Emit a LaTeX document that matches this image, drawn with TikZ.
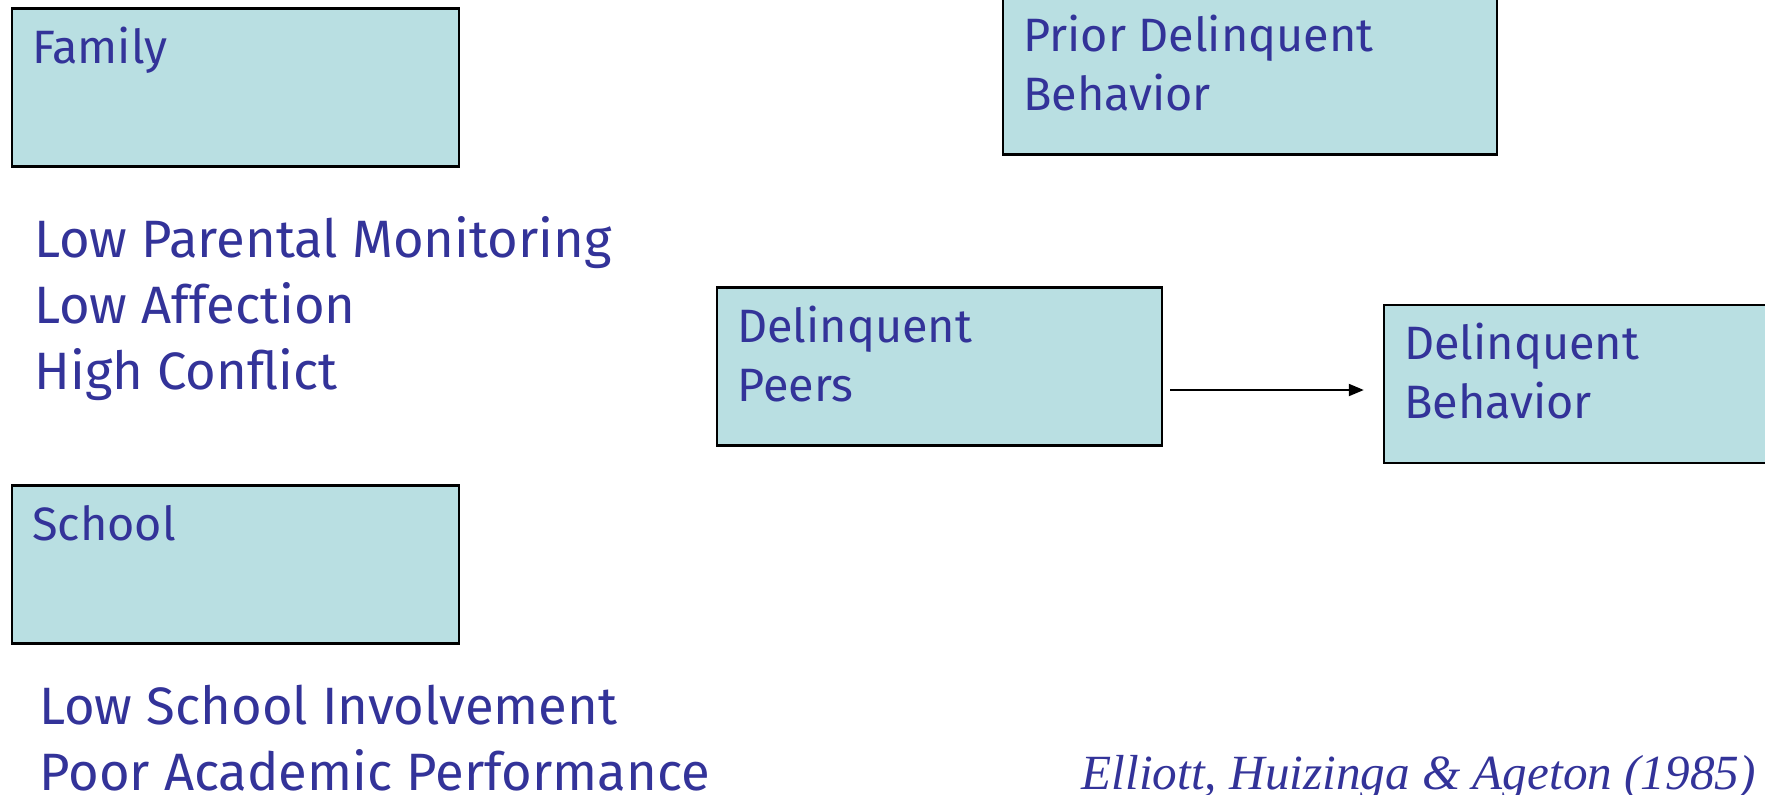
\documentclass[tikz,border=0pt]{standalone}
\usepackage{fontspec}
\setmainfont{Fira Sans}
\newfontfamily\citefont{Liberation Serif}
\usetikzlibrary{positioning, arrows.meta}
\definecolor{boxfill}{HTML}{B9DFE2}
\definecolor{textblue}{HTML}{333399}

\begin{document}
\begin{tikzpicture}[x=0.5pt, y=-0.5pt,
  box/.style={draw=black, fill=boxfill, line width=1.2pt, minimum width=223.5pt, minimum height=79pt, inner sep=0pt},
  boxtext/.style={anchor=base west, xshift=10.5pt, yshift={-28pt-(#1-1)*29.5pt}, inner sep=0pt, text=textblue, align=left, font=\fontsize{23.4}{29.5}\selectfont},
  boxtext/.default=1,
  listtext/.style={anchor=base west, inner sep=0pt, text=textblue, align=left, font=\fontsize{26.3}{33}\selectfont}]
\useasboundingbox (0,0) rectangle (1765,794);

% boxes
\node [box, label={[boxtext]north west:Family}] (family) at (235.5,87.5) {};
\node [box, label={[boxtext]north west:School}] (school) at (235.5,564.5) {};
\node [box, minimum width=247pt, label={[boxtext=2]north west:Prior Delinquent\\Behavior}] (prior) at (1250,75.5) {};
\node [box, minimum width=222.5pt, label={[boxtext=2]north west:Delinquent\\Peers}] (peers) at (939.5,366.5) {};
\node [box, label={[boxtext=2]north west:Delinquent\\Behavior}] (behavior) at (1607.5,384) {};

% risk factors (anchored at last baseline)
\node [listtext] (family list) at (34,389) {Low Parental Monitoring\\Low Affection\\High Conflict};
\node [listtext] (school list) at (39,790) {Low School Involvement\\Poor Academic Performance};

% path
\coordinate (A) at ([yshift=-11.75pt]peers.east);
\draw [-{Triangle[length=7.5pt, width=6pt]}, line width=1pt, shorten <=3.5pt, shorten >=9.5pt] (A) -- (A -| behavior.west);

\node [anchor=base east, inner sep=0pt, text=textblue, font=\citefont\itshape\fontsize{24.6}{28}\selectfont] (source) at (1756,789) {Elliott, Huizinga \& Ageton (1985)};
\end{tikzpicture}
\end{document}
